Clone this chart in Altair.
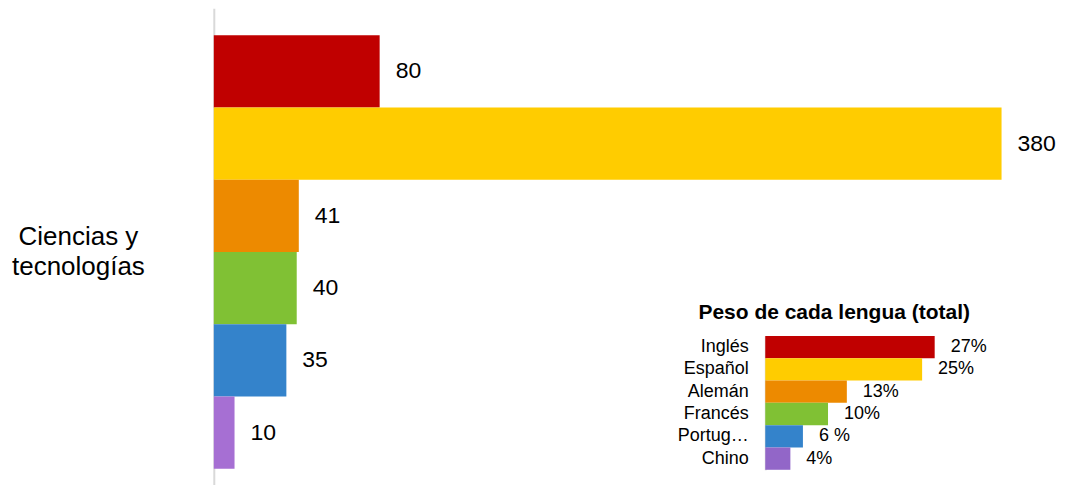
import altair as alt
import pandas as pd

# ---- data ----
category = "Ciencias y\ntecnologías"
languages = ["Inglés", "Español", "Alemán", "Francés", "Portugués", "Chino"]
main_values = [80, 380, 41, 40, 35, 10]
main_colors = ["#C00000", "#FFCC00", "#ED8A00", "#80C134", "#3483CB", "#A66FD3"]

inset_title = "Peso de cada lengua (total)"
inset_values = [27, 25, 13, 10, 6, 4]
inset_labels = ["27%", "25%", "13%", "10%", "6 %", "4%"]
inset_colors = ["#C00000", "#FFCC00", "#ED8A00", "#80C134", "#3483CB", "#9266C8"]

main_df = pd.DataFrame({
    "category": [category] * len(languages),
    "language": languages,
    "value": main_values,
})
inset_df = pd.DataFrame({
    "language": languages,
    "pct": inset_values,
    "label": inset_labels,
})
title_df = pd.DataFrame({"title": [inset_title]})

FONT = "Liberation Sans"

# ---- main chart ----
mbase = alt.Chart(main_df)
y_main = alt.Y(
    "category:N",
    scale=alt.Scale(paddingInner=0, paddingOuter=0.0495, align=0.628),
    axis=alt.Axis(
        title=None, ticks=False, tickSize=0, labelPadding=136,
        labelAlign="center", labelBaseline="middle", labelFontSize=26,
        labelLineHeight=30, labelFont=FONT, labelColor="#000000",
        labelExpr="split(datum.label, '\\n')", domainColor="#D9D9D9",
        domainWidth=2, labelLimit=300, labelOffset=-15,
    ),
)
yoff = alt.YOffset("language:N", sort=languages,
                   scale=alt.Scale(paddingInner=0, paddingOuter=0))
x_main = alt.X("value:Q", scale=alt.Scale(domain=[0, 400]), axis=None)

main_bars = mbase.mark_bar().encode(
    x=x_main, y=y_main, yOffset=yoff,
    color=alt.Color("language:N", scale=alt.Scale(domain=languages, range=main_colors), legend=None),
)
main_text = mbase.mark_text(align="left", baseline="middle", dx=16, fontSize=23,
                            font=FONT, color="#000000").encode(
    x=x_main, y=y_main, yOffset=yoff, text=alt.Text("value:Q"),
)
main_layer = alt.layer(main_bars, main_text)

# ---- inset chart ----
ibase = alt.Chart(inset_df)
x_in = alt.X("pct:Q", scale=alt.Scale(domain=[0, 30], range=[552, 740.4]), axis=None)
y_in = alt.Y(
    "language:N", sort=languages,
    scale=alt.Scale(range=[328, 462], paddingInner=0, paddingOuter=0),
    axis=alt.Axis(
        orient="left", offset=-552, title=None, ticks=False, tickSize=0,
        labelPadding=17, labelFontSize=18, labelFont=FONT, labelColor="#000000",
        labelLimit=72, domainColor="#D9D9D9", domainWidth=2,
    ),
)
in_bars = ibase.mark_bar().encode(
    x=x_in, y=y_in,
    color=alt.Color("language:N", scale=alt.Scale(domain=languages, range=inset_colors), legend=None),
)
in_text = ibase.mark_text(align="left", baseline="middle", dx=16, fontSize=18,
                          font=FONT, color="#000000").encode(
    x=x_in, y=y_in, text="label:N",
)
inset_layer = alt.layer(in_bars, in_text)

in_title = alt.Chart(title_df).mark_text(
    align="center", baseline="alphabetic", fontSize=21, fontWeight="bold",
    font=FONT, color="#000000",
).encode(x=alt.value(621), y=alt.value(311), text="title:N")

chart = alt.layer(main_layer, inset_layer, in_title).resolve_scale(
    x="independent", y="independent", color="independent"
).resolve_axis(x="independent", y="independent").properties(
    width=830, height=477,
    padding={"left": 206, "top": 0, "right": 14, "bottom": 0},
    autosize=alt.AutoSizeParams(type="none"),
).configure(font=FONT).configure_view(strokeWidth=0)

chart.save("out.html", embed_options={"renderer": "svg", "actions": False})
